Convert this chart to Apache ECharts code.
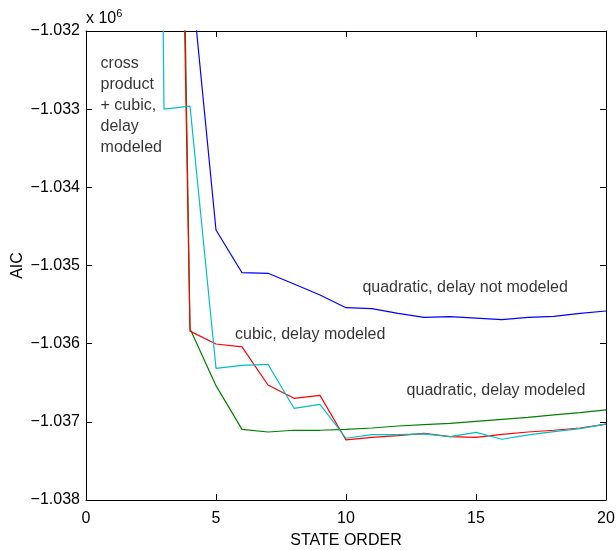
<!DOCTYPE html>
<html>
<head>
<meta charset="utf-8">
<script src="https://cdn.jsdelivr.net/npm/echarts@6/dist/echarts.min.js"></script>
<style>
  html, body { margin: 0; padding: 0; background: #fff; }
  #chart { width: 616px; height: 550px; }
</style>
</head>
<body>
<div id="chart"></div>
<script>
// State orders evaluated
const stateOrder = [2, 3, 4, 5, 6, 7, 8, 9, 10, 11, 12, 13, 14, 15, 16, 17, 18, 19, 20];

// AIC per model family (null = not evaluated)
const quadNoDelay = [null, null, -1031140, -1034546, -1035092, -1035100, -1035237, -1035377, -1035540,
  -1035552, -1035612, -1035663, -1035655, -1035672, -1035693, -1035663, -1035650, -1035612, -1035582];
const cubicDelay = [null, -1016980, -1035840, -1036004, -1036042, -1036529, -1036699, -1036661, -1037232,
  -1037200, -1037177, -1037147, -1037190, -1037200, -1037160, -1037130, -1037108, -1037079, -1037030];
const quadDelay = [null, -1014720, -1035810, -1036537, -1037096, -1037130, -1037108, -1037108, -1037096,
  -1037079, -1037053, -1037036, -1037019, -1036993, -1036968, -1036942, -1036912, -1036883, -1036848];
const crossCubicDelay = [-1000000, -1033000, -1032960, -1036315, -1036277, -1036264, -1036827, -1036776, -1037210,
  -1037164, -1037164, -1037155, -1037190, -1037134, -1037223, -1037168, -1037126, -1037088, -1037030];

// Axis ticks
const xTicks = [0, 5, 10, 15, 20];
const yTicks = [-1038000, -1037000, -1036000, -1035000, -1034000, -1033000, -1032000];

// In-plot annotations: text and anchor in data units
const noteTexts = ['cross\nproduct\n+ cubic,\ndelay\nmodeled', 'cubic, delay modeled',
  'quadratic, delay not modeled', 'quadratic, delay modeled'];
const noteX = [0.56, 5.73, 10.63, 12.33];
const noteY = [-1032959, -1035889, -1035284, -1036605];

const FONT = '"Liberation Sans", Arial, Helvetica, sans-serif';

function pairs(vals) {
  return stateOrder.map((x, i) => [x, vals[i]]).filter(p => p[1] !== null);
}
function fmtY(v) {
  return (v / 1e6).toFixed(3).replace('-', '\u2212');
}

const chart = echarts.init(document.getElementById('chart'), null, { renderer: 'canvas' });

const tickStyle = { show: true, inside: true, length: 6, lineStyle: { color: '#000', width: 1 } };
const lineStyleAxis = { show: true, onZero: false, lineStyle: { color: '#000', width: 1 } };

const xCommon = {
  type: 'value', min: xTicks[0], max: xTicks[xTicks.length - 1], interval: 5,
  axisLine: lineStyleAxis, axisTick: tickStyle, splitLine: { show: false }
};
const yCommon = {
  type: 'value', min: yTicks[0], max: yTicks[yTicks.length - 1], interval: 1000,
  axisLine: lineStyleAxis, axisTick: tickStyle, splitLine: { show: false }
};

function lineSeries(name, vals, color) {
  return {
    name, type: 'line', data: pairs(vals), showSymbol: false, symbol: 'none',
    lineStyle: { color, width: 1.2 }, clip: true, silent: true
  };
}

chart.setOption({
  animation: false,
  backgroundColor: '#fff',
  textStyle: { fontFamily: FONT },
  grid: { left: 86, right: 10, top: 31, bottom: 50, containLabel: false, outerBoundsMode: 'none' },
  xAxis: [
    Object.assign({}, xCommon, {
      position: 'bottom',
      name: 'STATE ORDER', nameLocation: 'middle', nameGap: 33, nameMoveOverlap: false,
      nameTextStyle: { color: '#000', fontSize: 16, fontFamily: FONT },
      axisLabel: { color: '#000', fontSize: 16, fontFamily: FONT, margin: 11 }
    }),
    Object.assign({}, xCommon, { position: 'top', axisLabel: { show: false } })
  ],
  yAxis: [
    Object.assign({}, yCommon, {
      position: 'left',
      name: 'AIC', nameLocation: 'middle', nameGap: 60, nameRotate: 90, nameMoveOverlap: false,
      nameTextStyle: { color: '#000', fontSize: 16, fontFamily: FONT },
      axisLabel: { color: '#000', fontSize: 16, fontFamily: FONT, margin: 6, formatter: fmtY }
    }),
    Object.assign({}, yCommon, { position: 'right', axisLabel: { show: false } })
  ],
  graphic: [{
    type: 'text', left: 86, top: 8,
    style: {
      text: 'x 10{sup|6}', fill: '#000', font: '16px ' + FONT,
      rich: { sup: { fontSize: 11, verticalAlign: 'top', padding: [0, 0, 10, 0], fontFamily: FONT } }
    }
  }],
  series: [
    lineSeries('quadratic, delay not modeled', quadNoDelay, '#0000ff'),
    lineSeries('quadratic, delay modeled', quadDelay, '#008000'),
    lineSeries('cubic, delay modeled', cubicDelay, '#ff0000'),
    lineSeries('cross product + cubic, delay modeled', crossCubicDelay, '#00bfbf'),
    {
      name: 'notes', type: 'scatter', symbolSize: 0, silent: true, z: 5,
      data: noteTexts.map((t, i) => ({ name: t, value: [noteX[i], noteY[i]] })),
      label: {
        show: true, position: [0, 0], align: 'left', verticalAlign: 'middle',
        formatter: p => p.name, color: '#000', fontSize: 16, lineHeight: 21, fontFamily: FONT
      }
    }
  ]
});
</script>
</body>
</html>
